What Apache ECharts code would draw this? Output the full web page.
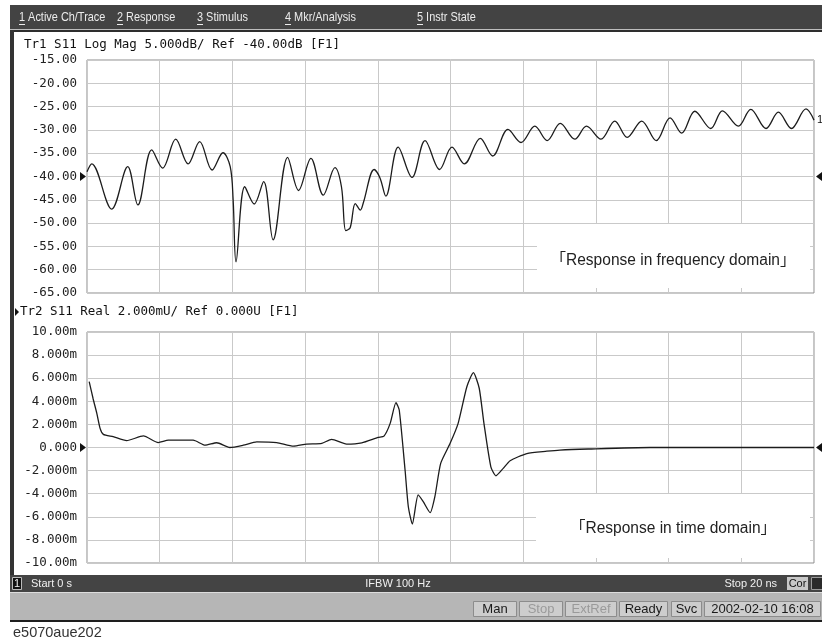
<!DOCTYPE html>
<html>
<head>
<meta charset="utf-8">
<script src="https://cdn.jsdelivr.net/npm/echarts@6/dist/echarts.min.js"></script>
<style>
  html, body { margin: 0; padding: 0; background: #ffffff; }
  #chart { width: 822px; height: 641px; }
</style>
</head>
<body>
<div id="chart"></div>
<script>
// Trace 1: S11 log magnitude across the sweep (position in graticule divisions, dB)
const sweepDiv = [
  0.00, 0.065, 0.34, 0.56, 0.70, 0.89, 1.04, 1.22, 1.39, 1.55, 1.72, 1.87, 1.97, 2.01, 2.05,
  2.17, 2.30, 2.43, 2.56, 2.76, 2.91, 3.08, 3.25, 3.41, 3.50, 3.56, 3.62, 3.69, 3.76, 3.80,
  3.95, 4.03, 4.11, 4.28, 4.47, 4.65, 4.85, 5.02, 5.19, 5.41, 5.58, 5.79, 5.97, 6.16, 6.33,
  6.51, 6.71, 6.87, 7.07, 7.26, 7.43, 7.63, 7.83, 8.02, 8.18, 8.36, 8.58, 8.74, 8.96, 9.13,
  9.34, 9.51, 9.69, 9.89, 10.00
];
const logMagDb = [
  -39.0, -37.3, -47.0, -37.9, -46.1, -34.3, -38.2, -32.0, -37.3, -32.5, -38.6, -34.9, -37.9, -45.0, -58.3,
  -42.2, -45.9, -41.1, -53.6, -35.9, -43.0, -36.1, -44.0, -38.1, -42.2, -51.6, -51.0, -45.8, -47.2, -45.7,
  -38.5, -40.3, -44.2, -33.7, -40.2, -32.3, -38.5, -33.7, -37.3, -31.8, -35.6, -29.9, -32.7, -29.2, -32.3,
  -28.6, -32.0, -29.2, -32.0, -28.1, -31.6, -28.1, -32.3, -27.4, -30.7, -26.0, -29.7, -25.9, -29.2, -25.6,
  -29.7, -26.2, -29.7, -25.5, -27.9
];

// Trace 2: S11 real part transformed to time domain (ns, milli-units)
const timeNs = [
  0.06, 0.17, 0.27, 0.36, 0.45, 0.72, 1.09, 1.55, 1.96, 2.24, 2.92, 3.25, 3.57, 3.93, 4.30,
  4.67, 5.22, 5.68, 6.04, 6.46, 6.73, 7.14, 7.56, 8.01, 8.17, 8.34, 8.50, 8.59, 8.75, 8.84,
  8.95, 9.11, 9.25, 9.44, 9.57, 9.73, 9.99, 10.21, 10.45, 10.63, 10.79, 10.92, 11.11, 11.25, 11.45,
  11.64, 12.10, 12.65, 13.01, 13.79, 15.49, 20.00
];
const realMilliU = [
  5.70, 4.20, 2.96, 1.66, 1.14, 0.94, 0.60, 1.00, 0.43, 0.63, 0.63, 0.20, 0.41, 0.00, 0.20,
  0.49, 0.43, 0.12, 0.30, 0.36, 0.71, 0.30, 0.41, 0.88, 0.99, 2.09, 3.88, 3.25, -1.95, -5.13,
  -6.63, -4.11, -4.69, -5.64, -4.26, -1.37, 0.36, 2.09, 5.26, 6.48, 5.13, 2.09, -1.67, -2.45, -1.81,
  -1.15, -0.52, -0.32, -0.22, -0.13, 0.00, 0.00
];

// Reference levels (the ▶ / ◀ markers) and scale settings
const refLevels = { logMag: -40, real: 0 };
const logMagScale = { min: -65, max: -15, step: 5 };
const realScale = { min: -10, max: 10, step: 2 };
const sweepScale = { min: 0, max: 10, step: 1 };
const timeScale = { min: 0, max: 20, step: 2 };

// Header / footer texts
const menuItems = [
  { num: '1', text: 'Active Ch/Trace', x: 19 },
  { num: '2', text: 'Response', x: 117 },
  { num: '3', text: 'Stimulus', x: 197 },
  { num: '4', text: 'Mkr/Analysis', x: 285 },
  { num: '5', text: 'Instr State', x: 417 }
];
const trace1Title = 'Tr1 S11 Log Mag 5.000dB/ Ref -40.00dB [F1]';
const trace2Title = 'Tr2 S11 Real 2.000mU/ Ref 0.000U [F1]';
const note1 = '「Response in frequency domain」';
const note2 = '「Response in time domain」';
const statusButtons = [
  { text: 'Man', x0: 473, x1: 517, dim: false },
  { text: 'Stop', x0: 519, x1: 563, dim: true },
  { text: 'ExtRef', x0: 565, x1: 617, dim: true },
  { text: 'Ready', x0: 619, x1: 668, dim: false },
  { text: 'Svc', x0: 671, x1: 702, dim: false },
  { text: '2002-02-10 16:08', x0: 704, x1: 821, dim: false }
];
const figureId = 'e5070aue202';

const pairs = (xs, ys) => xs.map((x, i) => [x, ys[i]]);

const monoFont = '"DejaVu Sans Mono", "Liberation Mono", monospace';
const sansFont = '"Liberation Sans", Arial, sans-serif';

function fmtDb(v) { return v.toFixed(2); }
function fmtMilli(v) {
  if (v === 0) return '0.000';
  const a = Math.abs(v);
  const s = a >= 10 ? a.toFixed(2) : a.toFixed(3);
  return (v < 0 ? '-' : '') + s + 'm';
}

const chart = echarts.init(document.getElementById('chart'), null, { renderer: 'canvas' });

const gridLine = { show: true, lineStyle: { color: '#c9c9c9', width: 1 } };
const yLabel = { fontFamily: monoFont, fontSize: 12.5, color: '#222', margin: 10 };

const graphics = [];

// Menu bar (condensed lettering)
const menuScale = 0.84;
graphics.push({ type: 'rect', shape: { x: 10, y: 5, width: 812, height: 24 }, style: { fill: '#434343' }, silent: true });
graphics.push({ type: 'rect', shape: { x: 10, y: 29, width: 812, height: 1 }, style: { fill: '#bdbdbd' }, silent: true });
graphics.push({ type: 'rect', shape: { x: 10, y: 30, width: 812, height: 2 }, style: { fill: '#2e2e2e' }, silent: true });
menuItems.forEach(m => {
  graphics.push({
    type: 'text', x: m.x, y: 17, scaleX: menuScale,
    style: { text: m.num + ' ' + m.text, font: '13px ' + sansFont, fill: '#ececec', textVerticalAlign: 'middle' },
    silent: true
  });
  graphics.push({ type: 'rect', shape: { x: m.x, y: 24, width: 6, height: 1 }, style: { fill: '#ececec' }, silent: true });
});

// Left window frame
graphics.push({ type: 'rect', shape: { x: 10, y: 30, width: 4, height: 546 }, style: { fill: '#333333' }, silent: true });

// Trace titles
graphics.push({ type: 'text', x: 24, y: 45, style: { text: trace1Title, font: '12.5px ' + monoFont, fill: '#111', textVerticalAlign: 'middle' }, silent: true });
graphics.push({ type: 'polygon', shape: { points: [[15, 308], [15, 316], [19, 312]] }, style: { fill: '#111' }, silent: true });
graphics.push({ type: 'text', x: 20, y: 312, style: { text: trace2Title, font: '12.5px ' + monoFont, fill: '#111', textVerticalAlign: 'middle' }, silent: true });

// Annotation panels inside each graticule
const noteFont = '16px ' + sansFont + ', "Noto Sans CJK JP"';
graphics.push({ type: 'rect', z: 1, shape: { x: 537, y: 224, width: 273, height: 64 }, style: { fill: '#ffffff' }, silent: true });
graphics.push({ type: 'text', z: 2, x: 673, y: 261, scaleX: 0.97, style: { text: note1, font: noteFont, fill: '#222', textAlign: 'center', textVerticalAlign: 'middle' }, silent: true });
graphics.push({ type: 'rect', z: 1, shape: { x: 536, y: 494, width: 274, height: 64 }, style: { fill: '#ffffff' }, silent: true });
graphics.push({ type: 'text', z: 2, x: 673, y: 529, scaleX: 0.97, style: { text: note2, font: noteFont, fill: '#222', textAlign: 'center', textVerticalAlign: 'middle' }, silent: true });

// Channel status bar
graphics.push({ type: 'rect', shape: { x: 10, y: 575, width: 812, height: 17 }, style: { fill: '#444444' }, silent: true });
graphics.push({ type: 'rect', shape: { x: 12.5, y: 577.5, width: 9, height: 12 }, style: { fill: '#111', stroke: '#bbbbbb', lineWidth: 1 }, silent: true });
graphics.push({ type: 'text', x: 17, y: 584, style: { text: '1', font: '11px ' + sansFont, fill: '#f0f0f0', textAlign: 'center', textVerticalAlign: 'middle' }, silent: true });
graphics.push({ type: 'text', x: 31, y: 584, style: { text: 'Start 0 s', font: '11px ' + sansFont, fill: '#f0f0f0', textVerticalAlign: 'middle' }, silent: true });
graphics.push({ type: 'text', x: 398, y: 584, style: { text: 'IFBW 100 Hz', font: '11px ' + sansFont, fill: '#f0f0f0', textAlign: 'center', textVerticalAlign: 'middle' }, silent: true });
graphics.push({ type: 'text', x: 777, y: 584, style: { text: 'Stop 20 ns', font: '11px ' + sansFont, fill: '#f0f0f0', textAlign: 'right', textVerticalAlign: 'middle' }, silent: true });
graphics.push({ type: 'rect', shape: { x: 787, y: 577, width: 21, height: 13 }, style: { fill: '#c8c8c8' }, silent: true });
graphics.push({ type: 'text', x: 797.5, y: 584, style: { text: 'Cor', font: '11px ' + sansFont, fill: '#111', textAlign: 'center', textVerticalAlign: 'middle' }, silent: true });
graphics.push({ type: 'rect', shape: { x: 811.5, y: 577.5, width: 12, height: 12 }, style: { fill: '#2a2a2a', stroke: '#9a9a9a', lineWidth: 1 }, silent: true });

// Instrument status bar
graphics.push({ type: 'rect', shape: { x: 10, y: 592, width: 812, height: 1 }, style: { fill: '#dddddd' }, silent: true });
graphics.push({ type: 'rect', shape: { x: 10, y: 593, width: 812, height: 27 }, style: { fill: '#b6b6b6' }, silent: true });
graphics.push({ type: 'rect', shape: { x: 10, y: 620, width: 812, height: 2 }, style: { fill: '#1e1e1e' }, silent: true });
statusButtons.forEach(b => {
  graphics.push({ type: 'rect', shape: { x: b.x0 + 0.5, y: 601.5, width: b.x1 - b.x0 - 1, height: 15 }, style: { fill: '#cdcdcd', stroke: '#8c8c8c', lineWidth: 1 }, silent: true });
  graphics.push({ type: 'text', x: (b.x0 + b.x1) / 2, y: 609.5, style: { text: b.text, font: '13px ' + sansFont, fill: b.dim ? '#9a9a9a' : '#1a1a1a', textAlign: 'center', textVerticalAlign: 'middle' }, silent: true });
});

// Figure identifier under the screen
graphics.push({ type: 'text', x: 13, y: 633, style: { text: figureId, font: '14.5px ' + sansFont, fill: '#333', textVerticalAlign: 'middle' }, silent: true });

const triangleRight = { symbol: 'triangle', symbolSize: [9, 6], symbolRotate: -90 };
const triangleLeft = { symbol: 'triangle', symbolSize: [9, 6], symbolRotate: 90 };

const option = {
  animation: false,
  backgroundColor: '#ffffff',
  grid: [
    { left: 87, top: 60, width: 727, height: 233, show: true, borderColor: '#8c8c8c', borderWidth: 1, backgroundColor: 'transparent' },
    { left: 87, top: 332, width: 727, height: 231, show: true, borderColor: '#8c8c8c', borderWidth: 1, backgroundColor: 'transparent' }
  ],
  xAxis: [
    { type: 'value', gridIndex: 0, min: sweepScale.min, max: sweepScale.max, interval: sweepScale.step,
      axisLine: { show: false }, axisTick: { show: false }, axisLabel: { show: false }, splitLine: gridLine },
    { type: 'value', gridIndex: 1, min: timeScale.min, max: timeScale.max, interval: timeScale.step,
      axisLine: { show: false }, axisTick: { show: false }, axisLabel: { show: false }, splitLine: gridLine }
  ],
  yAxis: [
    { type: 'value', gridIndex: 0, min: logMagScale.min, max: logMagScale.max, interval: logMagScale.step,
      axisLine: { show: false }, axisTick: { show: false }, splitLine: gridLine,
      axisLabel: Object.assign({ formatter: fmtDb }, yLabel) },
    { type: 'value', gridIndex: 1, min: realScale.min, max: realScale.max, interval: realScale.step,
      axisLine: { show: false }, axisTick: { show: false }, splitLine: gridLine,
      axisLabel: Object.assign({ formatter: fmtMilli }, yLabel) }
  ],
  series: [
    {
      name: 'Tr1 S11 Log Mag', type: 'line', xAxisIndex: 0, yAxisIndex: 0, z: 5,
      data: pairs(sweepDiv, logMagDb), showSymbol: false, smooth: 0.35,
      lineStyle: { color: '#1c1c1c', width: 1.3 },
      markPoint: {
        silent: true,
        data: [
          Object.assign({ coord: [sweepScale.min, refLevels.logMag], symbolOffset: [-4, 0], itemStyle: { color: '#111' } }, triangleRight),
          Object.assign({ coord: [sweepScale.max, refLevels.logMag], symbolOffset: [5, 0], itemStyle: { color: '#111' } }, triangleLeft),
          { coord: [sweepDiv[sweepDiv.length - 1], logMagDb[logMagDb.length - 1]], symbol: 'circle', symbolSize: 0,
            label: { show: true, formatter: '1', position: 'right', distance: 3, fontFamily: sansFont, fontSize: 11, color: '#111' } }
        ]
      }
    },
    {
      name: 'Tr2 S11 Real', type: 'line', xAxisIndex: 1, yAxisIndex: 1, z: 5,
      data: pairs(timeNs, realMilliU), showSymbol: false, smooth: 0.2,
      lineStyle: { color: '#1c1c1c', width: 1.3 },
      markPoint: {
        silent: true,
        data: [
          Object.assign({ coord: [timeScale.min, refLevels.real], symbolOffset: [-4, 0], itemStyle: { color: '#111' } }, triangleRight),
          Object.assign({ coord: [timeScale.max, refLevels.real], symbolOffset: [5, 0], itemStyle: { color: '#111' } }, triangleLeft)
        ]
      }
    }
  ],
  graphic: graphics
};

chart.setOption(option);
</script>
</body>
</html>
